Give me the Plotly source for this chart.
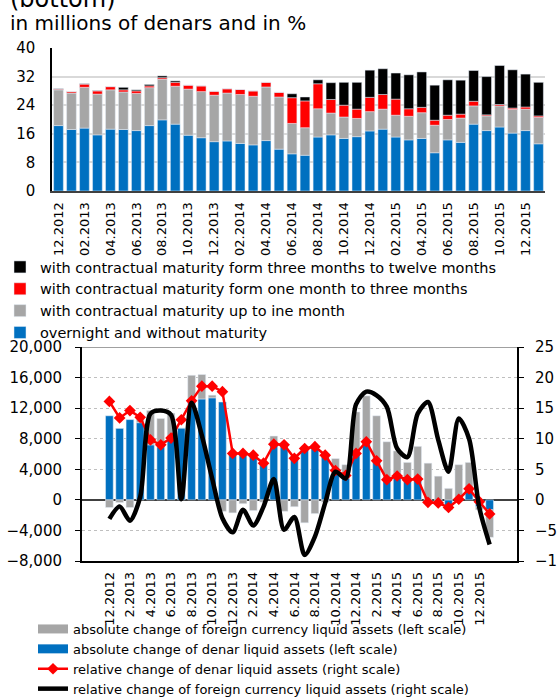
import plotly.graph_objects as go

# month categories, 12.2012 - 01.2016
months_top = [
    "12.2012",
    "01.2013", "02.2013", "03.2013", "04.2013", "05.2013", "06.2013",
    "07.2013", "08.2013", "09.2013", "10.2013", "11.2013", "12.2013",
    "01.2014", "02.2014", "03.2014", "04.2014", "05.2014", "06.2014",
    "07.2014", "08.2014", "09.2014", "10.2014", "11.2014", "12.2014",
    "01.2015", "02.2015", "03.2015", "04.2015", "05.2015", "06.2015",
    "07.2015", "08.2015", "09.2015", "10.2015", "11.2015", "12.2015",
    "01.2016",
]
months_bottom = [
    "12.2012",
    "1.2013", "2.2013", "3.2013", "4.2013", "5.2013", "6.2013",
    "7.2013", "8.2013", "9.2013", "10.2013", "11.2013", "12.2013",
    "1.2014", "2.2014", "3.2014", "4.2014", "5.2014", "6.2014",
    "7.2014", "8.2014", "9.2014", "10.2014", "11.2014", "12.2014",
    "1.2015", "2.2015", "3.2015", "4.2015", "5.2015", "6.2015",
    "7.2015", "8.2015", "9.2015", "10.2015", "11.2015", "12.2015",
    "1.2016",
]

# top panel: liquid assets by maturity
overnight = [18.3, 17.2, 17.6, 15.7, 17.3, 17.2, 16.9, 18.3, 19.9, 18.7, 15.6, 14.9, 13.8,
             14.0, 13.3, 12.9, 14.1, 11.7, 10.4, 10.0, 15.1, 15.7, 14.7, 15.2, 16.8,
             17.3, 15.1, 14.3, 14.7, 10.7, 14.3, 13.6, 18.7, 16.9, 17.9, 16.2, 16.9, 13.2]
up_to_one_month = [10.0, 10.2, 11.4, 11.4, 11.0, 10.5, 10.4, 10.6, 11.4, 10.6, 12.9, 12.9, 13.0,
                   13.4, 13.7, 13.6, 15.0, 14.6, 8.5, 7.7, 7.9, 6.1, 6.0, 5.1, 5.4,
                   5.6, 6.1, 6.6, 7.2, 7.7, 5.7, 6.8, 5.1, 4.1, 5.9, 6.6, 6.0, 7.4]
one_to_three_months = [0.2, 0.4, 0.9, 0.9, 0.9, 0.6, 0.7, 0.5, 0.4, 1.1, 1.1, 1.6, 1.1,
                       1.2, 1.4, 1.5, 1.3, 1.3, 7.2, 7.5, 7.0, 3.8, 3.3, 2.6, 4.0,
                       4.1, 4.5, 2.1, 1.5, 1.4, 1.2, 1.1, 1.3, 0.3, 0.4, 0.4, 0.6, 0.4]
three_to_twelve_months = [0.1, 0.0, 0.1, 0.1, 0.0, 0.7, 0.3, 0.4, 0.5, 0.4, 0.0, 0.0, 0.0,
                          0.0, 0.0, 0.0, 0.0, 0.0, 1.1, 1.1, 1.1, 4.7, 6.4, 7.5, 7.6,
                          7.2, 7.3, 9.5, 9.9, 9.8, 9.9, 9.5, 8.6, 10.7, 10.9, 10.7, 9.2, 9.4]

# bottom panel: annual changes
denar_abs = [11000, 9350, 10500, 10100, 7200, 6950, 7800, 9400, 12900, 13200, 13350, 12800, 5900,
             5900, 5700, 4800, 7400, 7400, 5600, 6700, 7000, 6100, 3700, 2800, 6100,
             7800, 5200, 2600, 3500, 2800, 2600, -300, -200, -1300, 300, 1300, -900, -1300]
foreign_abs = [-1000, -350, -1000, 500, 4500, 3700, 3550, 0, 3400, 3200, 350, -1500, -1700,
               -500, -1400, -300, 950, -1500, -900, -3000, -1800, -300, 1700, 1800, 5400,
               5800, 5800, 5000, 2900, 2100, 4400, 4800, 3100, 1500, 4300, 3600, -400, -3600]
denar_rel = [16.1, 13.4, 14.6, 13.5, 9.8, 9.0, 10.1, 13.1, 16.2, 18.6, 18.6, 17.7, 7.6,
             7.6, 7.3, 6.0, 9.1, 9.0, 6.8, 8.4, 8.7, 7.3, 4.8, 4.0, 7.6,
             9.5, 6.4, 3.3, 3.9, 3.3, 3.4, -0.4, -0.5, -1.25, 0.1, 1.8, -0.3, -2.3]
foreign_rel = [-3.1, -1.1, -3.4, 0.5, 14.1, 14.6, 13.9, 0.1, 15.9, 10.5, 3.5, -3.0, -5.3,
               -1.6, -4.2, -1.1, 3.4, -4.9, -2.8, -9.0, -6.0, -0.5, 4.6, 3.5, 15.6,
               17.7, 17.1, 15.2, 8.4, 7.0, 14.1, 16.0, 9.8, 4.6, 13.3, 10.0, -1.3, -7.3]

BLUE = "#0070C0"
GRAY = "#A6A6A6"
RED = "#FF0000"
BLACK = "#000000"
FONT = "DejaVu Sans"

W, H = 557, 698


def px_x(p):
    return p / W


def px_y(p):
    return 1 - p / H


fig = go.Figure()

# top stacked bars
for vals, name, col in [
    (overnight, "overnight and without maturity", BLUE),
    (up_to_one_month, "with contractual maturity up to ine month", GRAY),
    (one_to_three_months, "with contractual maturity form one month to three months", RED),
    (three_to_twelve_months, "with contractual maturity form three months to twelve months", BLACK),
]:
    fig.add_trace(go.Bar(x=months_top, y=vals, name=name, marker_color=col,
                         xaxis="x", yaxis="y", legend="legend"))

# bottom bars (legend drawn by stand-in entries below)
fig.add_trace(go.Bar(x=months_bottom, y=denar_abs, marker_color=BLUE, showlegend=False,
                     xaxis="x2", yaxis="y2"))
fig.add_trace(go.Bar(x=months_bottom, y=foreign_abs, marker_color=GRAY, showlegend=False,
                     xaxis="x2", yaxis="y2"))

for name, col in [
    ("absolute change of foreign currency liquid assets (left scale)", GRAY),
    ("absolute change of denar liquid assets (left scale)", BLUE),
]:
    fig.add_trace(go.Scatter(x=[None], y=[None], mode="lines", name=name,
                             line=dict(color=col, width=9),
                             xaxis="x2", yaxis="y2", legend="legend2"))

fig.add_trace(go.Scatter(x=months_bottom, y=denar_rel, mode="lines+markers",
                         name="relative change of denar liquid assets (right scale)",
                         line=dict(color=RED, width=2.5),
                         marker=dict(symbol="diamond", size=9, color=RED),
                         xaxis="x2", yaxis="y3", legend="legend2"))
fig.add_trace(go.Scatter(x=months_bottom, y=foreign_rel, mode="lines",
                         name="relative change of foreign currency liquid assets (right scale)",
                         line=dict(color=BLACK, width=4.5, shape="spline", smoothing=0.8),
                         xaxis="x2", yaxis="y3", legend="legend2"))

fig.update_layout(
    width=W, height=H, autosize=False,
    margin=dict(l=0, r=0, t=0, b=0, autoexpand=False),
    paper_bgcolor="white", plot_bgcolor="white",
    font=dict(family=FONT, size=15, color="#000000"),
    barmode="relative", bargap=0.25,
    xaxis=dict(domain=[px_x(52), px_x(545)], anchor="y", type="category",
               tickvals=months_top[::2], tickangle=-90, tickfont=dict(size=13),
               showline=True, linecolor="#404040", linewidth=2, showgrid=False,
               ticklabelstandoff=4),
    yaxis=dict(domain=[px_y(191), px_y(48)], anchor="x", range=[0, 40], dtick=8,
               showgrid=True, gridcolor="#D9D9D9", gridwidth=1.5, zeroline=False,
               showline=True, linecolor="#000000", linewidth=1.5,
               ticklabelstandoff=12),
    xaxis2=dict(domain=[px_x(82), px_x(517)], anchor="y2", type="category",
                tickvals=months_bottom[::2], tickangle=-90, tickfont=dict(size=13),
                showline=True, linecolor="#000000", linewidth=1.5, showgrid=False,
                ticklabelstandoff=4),
    yaxis2=dict(domain=[px_y(561), px_y(347)], anchor="x2", range=[-8000, 20000], dtick=4000,
                tickformat=",", showgrid=True, gridcolor="#BFBFBF", griddash="dot",
                zeroline=True, zerolinecolor="#404040", zerolinewidth=1.5,
                showline=True, linecolor="#000000", linewidth=2,
                ticks="outside", ticklen=5, tickcolor="#000000", ticklabelstandoff=10),
    yaxis3=dict(overlaying="y2", anchor="x2", side="right", range=[-10, 25], dtick=5,
                showgrid=False, zeroline=False,
                showline=True, linecolor="#000000", linewidth=2,
                ticks="outside", ticklen=5, tickcolor="#000000", ticklabelstandoff=8),
    legend=dict(x=0.0, y=px_y(251), xanchor="left", yanchor="top",
                traceorder="reversed", font=dict(size=14.5), bgcolor="rgba(0,0,0,0)",
                tracegroupgap=0),
    legend2=dict(x=px_x(33), y=px_y(614), xanchor="left", yanchor="top",
                 traceorder="normal", font=dict(size=13), bgcolor="rgba(0,0,0,0)",
                 tracegroupgap=0),
    shapes=[dict(type="line", xref="x2 domain", yref="y2", x0=0, x1=1, y0=20000, y1=20000,
                 line=dict(color="#808080", width=1.5))],
    annotations=[
        dict(text="(bottom)", x=px_x(8), y=px_y(-1), xref="paper", yref="paper",
             xanchor="left", yanchor="middle", showarrow=False, font=dict(size=24)),
        dict(text="in millions of denars and in %", x=px_x(8), y=px_y(23),
             xref="paper", yref="paper", xanchor="left", yanchor="middle",
             showarrow=False, font=dict(size=20)),
    ],
)

# the page's default body margin would shift the 557x698 figure
fig.write_html("out.html", config={"displayModeBar": False},
               post_script="document.body.style.margin='0';")
